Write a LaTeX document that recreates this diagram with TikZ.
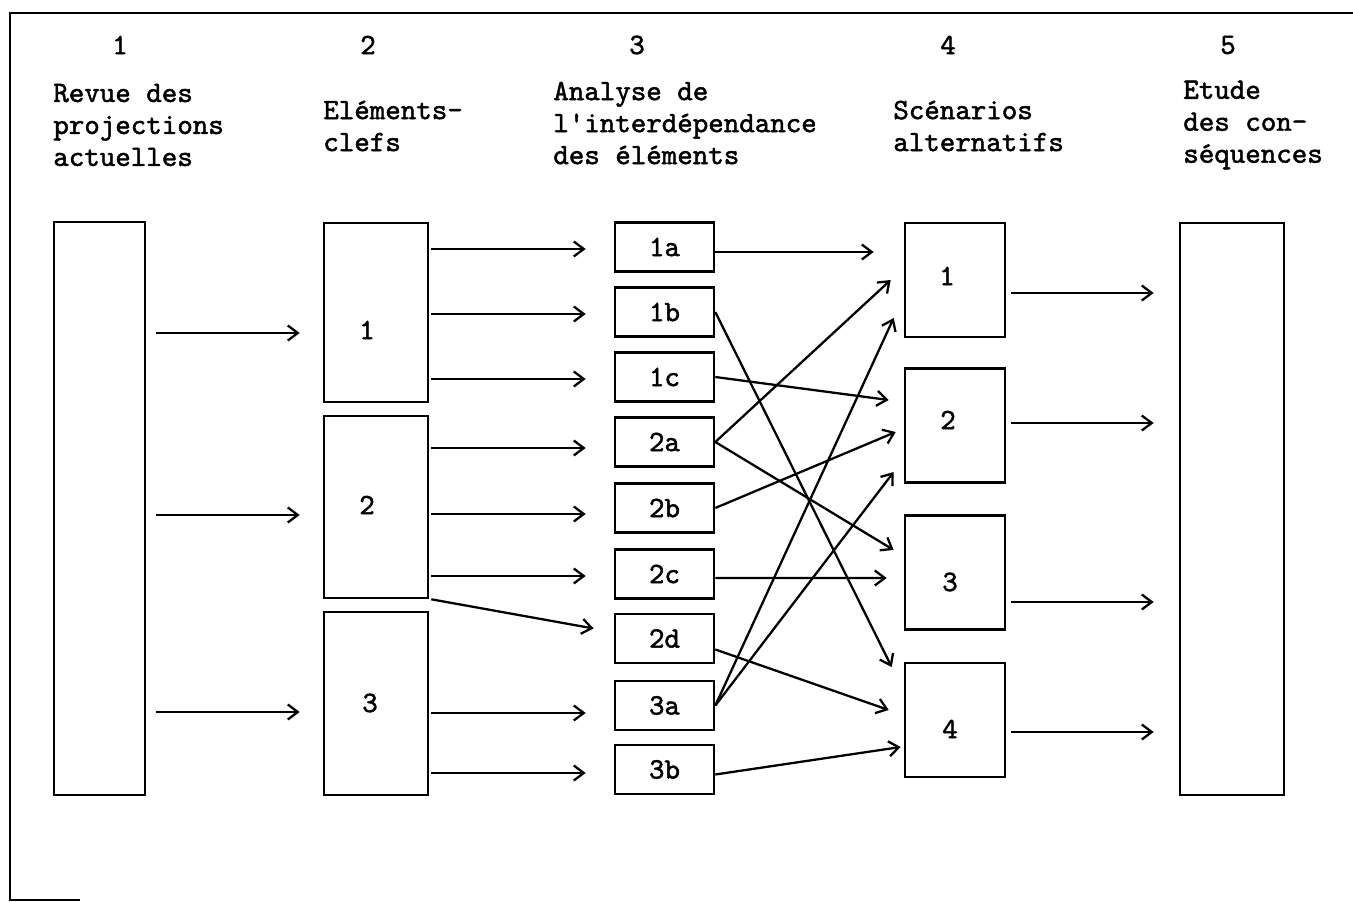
\documentclass[tikz,border=0pt]{standalone}
\usepackage{fontspec}
\usetikzlibrary{arrows.meta,calc}
\newfontfamily\tw{lmmono10-regular.otf}[FakeBold=1.6]
\begin{document}
\begin{tikzpicture}[x=0.02cm, y=-0.02cm,
  box/.style={draw, line width=1.5pt, inner sep=0pt},
  txt/.style={font=\tw\fontsize{16.8}{18.2}\selectfont, inner sep=0pt},
  ebox/.style={box, txt, minimum width=1.98cm, minimum height=0.98cm},
  sbox/.style={box, minimum width=2cm, minimum height=2.28cm},
  arr/.style={line width=1.3pt, -{Straight Barb[length=0.2cm, width=0.3cm, line width=1.3pt]}},
  title/.style={txt, anchor=west, align=left}]
\useasboundingbox (0,0) rectangle (1353,902);

% frame
\draw[line width=1.2pt] (80,900) -- (10,900) -- (10,13) -- (1353,13);

% column headings
\node[txt] (h1) at (120,45) {1};
\node[txt] (h2) at (368,45) {2};
\node[txt] (h3) at (637,45) {3};
\node[txt] (h4) at (948,45) {4};
\node[txt] (h5) at (1228,45) {5};
\node[title] (t1) at (53,125) {Revue des\\projections\\actuelles};
\node[title] (t2) at (323,126) {Eléments-\\clefs};
\node[title] (t3) at (553,123) {Analyse de\\l'interdépendance\\des éléments};
\node[title] (t4) at (893,126) {Scénarios\\alternatifs};
\node[title] (t5) at (1183,125) {Etude\\des con-\\séquences};

% column 1 and 5
\node[box, minimum width=1.82cm, minimum height=11.46cm] (c1) at (99.5,508.5) {};
\node[box, minimum width=2.08cm, minimum height=11.44cm] (c5) at (1232,509) {};

% column 2: key elements
\node[box, minimum width=2.08cm, minimum height=3.58cm] (k1) at (376,312.5) {};
\node[box, minimum width=2.08cm, minimum height=3.64cm] (k2) at (376,507) {};
\node[box, minimum width=2.08cm, minimum height=3.66cm] (k3) at (376,703.5) {};
\node[txt] (k1t) at (367,330) {1};
\node[txt] (k2t) at (367,505) {2};
\node[txt] (k3t) at (370,703) {3};

% column 3: sub-elements
\node[ebox] (e1a) at (664.5,247) {1a};
\node[ebox] (e1b) at (664.5,312) {1b};
\node[ebox] (e1c) at (664.5,377) {1c};
\node[ebox] (e2a) at (664.5,442) {2a};
\node[ebox] (e2b) at (664.5,508) {2b};
\node[ebox] (e2c) at (664.5,574) {2c};
\node[ebox] (e2d) at (664.5,638.5) {2d};
\node[ebox] (e3a) at (664.5,705.5) {3a};
\node[ebox] (e3b) at (664.5,769.5) {3b};

% column 4: scenarios
\node[sbox] (s1) at (955,280) {};
\node[sbox] (s2) at (955,425.5) {};
\node[sbox] (s3) at (955,572.5) {};
\node[sbox] (s4) at (955,720) {};
\node[txt] (s1t) at (947,276) {1};
\node[txt] (s2t) at (948,420) {2};
\node[txt] (s3t) at (950,582) {3};
\node[txt] (s4t) at (950,729) {4};

% column 1 -> column 2
\draw[arr] ($(c1.east |- k1)+(10,20.5)$) -- ($(k1.west)+(-23,20.5)$);
\draw[arr] ($(c1.east |- k2)+(10,8)$) -- ($(k2.west)+(-23,8)$);
\draw[arr] ($(c1.east |- k3)+(10,8.5)$) -- ($(k3.west)+(-23,8.5)$);

% column 2 -> column 3
\draw[arr] ($(k1.east |- e1a)+(2,2)$) -- ($(e1a.west)+(-28,2)$);
\draw[arr] ($(k1.east |- e1b)+(2,2)$) -- ($(e1b.west)+(-28,2)$);
\draw[arr] ($(k1.east |- e1c)+(2,2)$) -- ($(e1c.west)+(-28,2)$);
\draw[arr] ($(k2.east |- e2a)+(2,6)$) -- ($(e2a.west)+(-28,6)$);
\draw[arr] ($(k2.east |- e2b)+(2,6)$) -- ($(e2b.west)+(-28,6)$);
\draw[arr] ($(k2.east |- e2c)+(2,2)$) -- ($(e2c.west)+(-28,2)$);
\draw[arr] ($(k2.south east)+(2,0)$) -- ($(e2d.west)+(-20,-10)$);
\draw[arr] ($(k3.east |- e3a)+(2,7.5)$) -- ($(e3a.west)+(-28,7.5)$);
\draw[arr] ($(k3.east |- e3b)+(2,3.5)$) -- ($(e3b.west)+(-28,3.5)$);

% column 3 -> column 4
\draw[arr] ($(e1a.east)+(0,5)$) -- ($(s1.west)+(-30,-28)$);
\draw[arr] (e1b.east) -- ($(s4.west)+(-12,-53)$);
\draw[arr] (e1c.east) -- ($(s2.west)+(-15,-25.5)$);
\draw[arr] (e2a.east) -- ($(s1.west)+(-13,0)$);
\draw[arr] (e2a.east) -- ($(s3.west)+(-10,-22.5)$);
\draw[arr] (e2b.east) -- ($(s2.west)+(-8,6.5)$);
\draw[arr] ($(e2c.east)+(0,4)$) -- ($(s3.west)+(-17,5.5)$);
\draw[arr] ($(e2d.east)+(0,11)$) -- ($(s4.west)+(-15,-10)$);
\draw[arr] (e3a.east) -- ($(s1.west)+(-10,38)$);
\draw[arr] (e3a.east) -- ($(s2.west)+(-10,46.5)$);
\draw[arr] ($(e3b.east)+(0,5)$) -- ($(s4.west)+(-3,27)$);

% column 4 -> column 5
\draw[arr] ($(s1.east)+(5,13)$) -- ($(s1.east -| c5.west)+(-25,13)$);
\draw[arr] ($(s2.east)+(5,-2.5)$) -- ($(s2.east -| c5.west)+(-25,-2.5)$);
\draw[arr] ($(s3.east)+(5,29.5)$) -- ($(s3.east -| c5.west)+(-25,29.5)$);
\draw[arr] ($(s4.east)+(5,12)$) -- ($(s4.east -| c5.west)+(-25,12)$);
\end{tikzpicture}
\end{document}
